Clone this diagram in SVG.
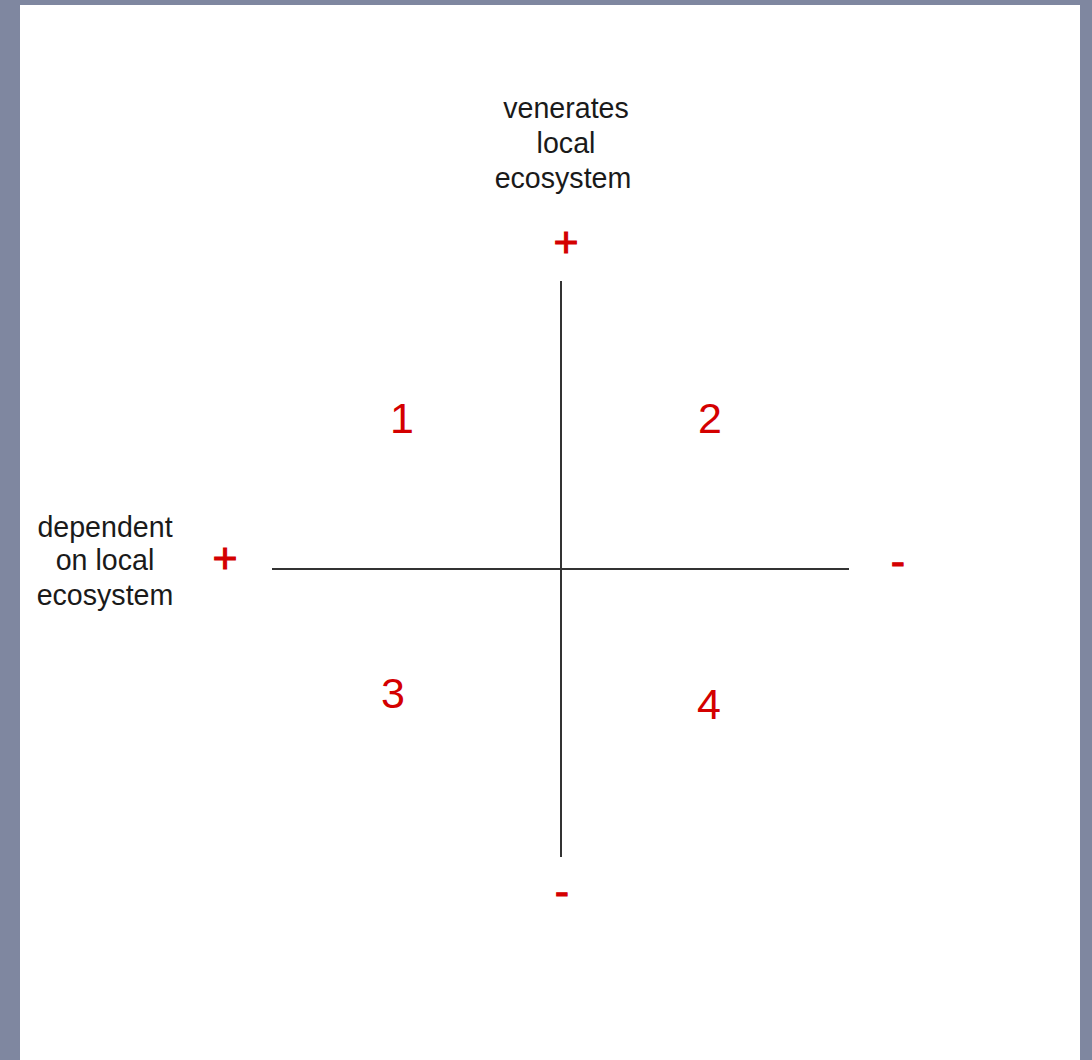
<svg xmlns="http://www.w3.org/2000/svg" width="1092" height="1060" viewBox="0 0 1092 1060">
<style>
.lbl{font-family:"Liberation Sans",Arial,sans-serif;font-size:28.6px;fill:#1a1a1a;text-anchor:middle}
.red{font-family:"Liberation Sans",Arial,sans-serif;font-size:43px;fill:#d40000;text-anchor:middle}
.sign{stroke:#d40000;stroke-width:1}
.axis{stroke:#333;stroke-width:2;fill:none}
</style>
<rect x="0" y="0" width="1092" height="1060" fill="#7f87a0"/>
<rect x="20" y="5" width="1060" height="1055" fill="#ffffff"/>
<g id="connectors">
<line class="axis" x1="561" y1="281" x2="561" y2="857"/>
<line class="axis" x1="272" y1="569" x2="849" y2="569"/>
</g>
<g id="label-top">
<text class="lbl" x="566" y="118">venerates</text>
<text class="lbl" x="566" y="153">local</text>
<text class="lbl" x="563" y="188">ecosystem</text>
</g>
<g id="label-left">
<text class="lbl" x="105" y="537">dependent</text>
<text class="lbl" x="105" y="570">on local</text>
<text class="lbl" x="105" y="605">ecosystem</text>
</g>
<g id="signs">
<text class="red sign" x="566" y="257">+</text>
<text class="red sign" x="225" y="573">+</text>
<text class="red sign" x="898" y="576">-</text>
<text class="red sign" x="562" y="906">-</text>
</g>
<g id="quadrants">
<text class="red" x="402" y="433">1</text>
<text class="red" x="710" y="433">2</text>
<text class="red" x="393" y="708">3</text>
<text class="red" x="709" y="719">4</text>
</g>
</svg>
